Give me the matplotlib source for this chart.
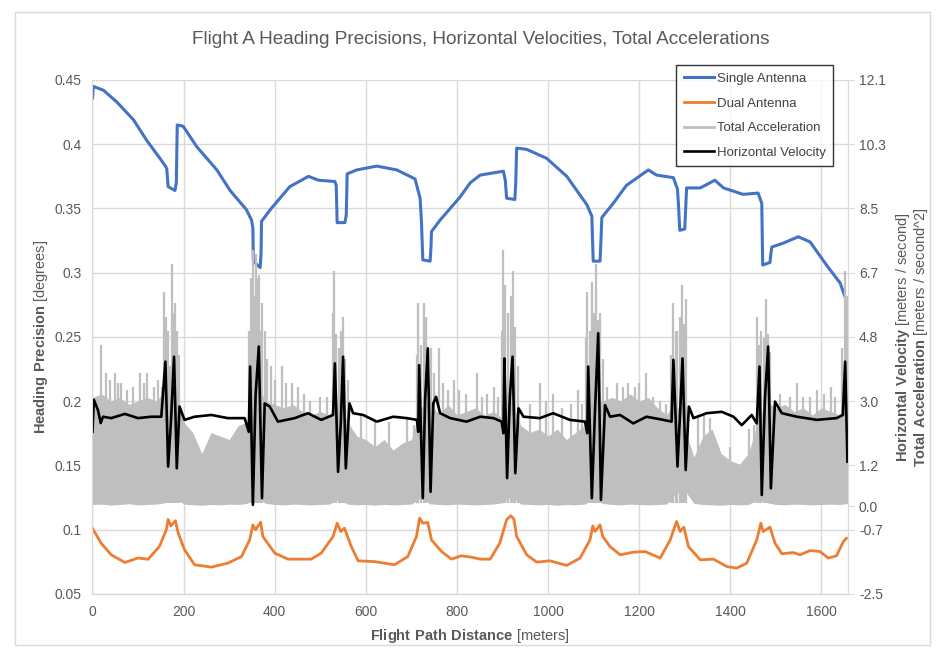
import matplotlib
matplotlib.use('Agg')
import matplotlib.pyplot as plt
from matplotlib.lines import Line2D
from matplotlib.patches import Rectangle

plt.rcParams['font.family'] = 'Liberation Sans'
plt.rcParams['mathtext.fontset'] = 'custom'
plt.rcParams['mathtext.rm'] = 'Liberation Sans'
plt.rcParams['mathtext.bf'] = 'Liberation Sans:bold'

# heading precision, single antenna [deg]
single_d = [0, 2, 24, 53, 90, 119, 148, 160, 163, 166, 181, 184, 186, 199, 229, 273, 302,
            338, 349, 352, 353, 368, 370, 371, 390, 433, 474, 496, 532, 535, 537, 554, 557,
            559, 580, 624, 668, 708, 719, 722, 725, 741, 743, 744, 763, 807, 829, 851, 902,
            906, 909, 927, 929, 931, 953, 997, 1041, 1085, 1096, 1099, 1114, 1116, 1118,
            1143, 1172, 1220, 1238, 1275, 1284, 1286, 1289, 1300, 1302, 1304, 1334, 1366,
            1385, 1428, 1461, 1469, 1471, 1487, 1489, 1491, 1516, 1549, 1575, 1611, 1641,
            1652, 1655]
single_v = [0.436, 0.445, 0.442, 0.433, 0.419, 0.403, 0.389, 0.383, 0.381, 0.367, 0.364,
            0.370, 0.415, 0.414, 0.398, 0.380, 0.364, 0.349, 0.341, 0.335, 0.309, 0.304,
            0.315, 0.340, 0.349, 0.367, 0.375, 0.372, 0.371, 0.368, 0.339, 0.339, 0.345,
            0.377, 0.380, 0.383, 0.380, 0.373, 0.358, 0.340, 0.310, 0.309, 0.320, 0.332,
            0.341, 0.359, 0.370, 0.376, 0.379, 0.372, 0.358, 0.357, 0.370, 0.397, 0.396,
            0.389, 0.375, 0.353, 0.344, 0.309, 0.309, 0.325, 0.343, 0.354, 0.368, 0.380,
            0.376, 0.374, 0.365, 0.354, 0.333, 0.334, 0.350, 0.366, 0.366, 0.372, 0.366,
            0.361, 0.362, 0.354, 0.306, 0.308, 0.315, 0.320, 0.323, 0.328, 0.324, 0.306,
            0.292, 0.281, 0.279]

# heading precision, dual antenna [deg]
dual_d = [0, 19, 41, 71, 100, 122, 147, 162, 166, 172, 182, 188, 202, 224, 261, 297, 327,
          345, 352, 358, 369, 374, 400, 429, 480, 502, 528, 537, 545, 553, 568, 583, 619,
          663, 692, 711, 718, 725, 736, 744, 766, 788, 809, 831, 851, 873, 894, 909, 918,
          925, 931, 953, 975, 1004, 1041, 1070, 1092, 1098, 1103, 1114, 1120, 1136, 1158,
          1187, 1213, 1246, 1268, 1282, 1290, 1298, 1308, 1334, 1363, 1392, 1414, 1436,
          1458, 1467, 1472, 1487, 1498, 1513, 1538, 1553, 1575, 1597, 1615, 1633, 1648,
          1655]
dual_v = [0.101, 0.0895, 0.0805, 0.0745, 0.078, 0.077, 0.087, 0.100, 0.108, 0.103, 0.107,
          0.0975, 0.0844, 0.0727, 0.0709, 0.074, 0.0791, 0.0921, 0.1038, 0.100, 0.1059,
          0.0947, 0.0818, 0.0771, 0.0771, 0.0818, 0.0947, 0.1051, 0.0986, 0.1012, 0.0869,
          0.0758, 0.0752, 0.0727, 0.0791, 0.0947, 0.109, 0.1051, 0.1056, 0.0921, 0.083,
          0.0771, 0.0797, 0.0787, 0.0771, 0.0771, 0.0896, 0.1078, 0.1109, 0.1083, 0.0947,
          0.0805, 0.0748, 0.0758, 0.0722, 0.0779, 0.0921, 0.103, 0.0986, 0.1038, 0.0947,
          0.0869, 0.0805, 0.0825, 0.083, 0.0779, 0.0921, 0.1064, 0.0986, 0.102, 0.0869,
          0.0766, 0.0771, 0.0714, 0.0701, 0.074, 0.0921, 0.1051, 0.0986, 0.102, 0.0896,
          0.0813, 0.0822, 0.0805, 0.0838, 0.083, 0.0779, 0.0797, 0.0908, 0.0934]

# horizontal velocity [m/s]
vel_d = [0, 3, 12, 18, 23, 41, 71, 100, 129, 151, 160, 166, 172, 179, 185, 191, 202, 224,
         261, 297, 334, 343, 346, 352, 358, 365, 372, 378, 389, 407, 444, 473, 502, 528,
         532, 539, 545, 550, 556, 564, 572, 594, 624, 660, 690, 712, 715, 717, 725, 730,
         736, 742, 748, 754, 763, 785, 821, 851, 880, 898, 902, 904, 910, 916, 922, 928,
         935, 946, 982, 1011, 1048, 1081, 1086, 1088, 1096, 1103, 1110, 1116, 1125, 1136,
         1158, 1187, 1216, 1253, 1271, 1275, 1284, 1290, 1295, 1302, 1309, 1319, 1348,
         1381, 1407, 1425, 1447, 1458, 1464, 1469, 1476, 1483, 1489, 1498, 1513, 1546,
         1590, 1633, 1647, 1652, 1657]
vel_v = [2.12, 3.03, 2.74, 2.37, 2.55, 2.51, 2.63, 2.51, 2.55, 2.55, 4.12, 1.13, 2.36,
         4.26, 1.08, 2.84, 2.46, 2.55, 2.60, 2.51, 2.51, 2.12, 3.98, 0.04, 3.17, 4.55,
         0.23, 2.93, 2.84, 2.41, 2.51, 2.65, 2.46, 2.60, 4.07, 0.98, 2.36, 4.26, 1.08,
         2.93, 2.65, 2.60, 2.41, 2.55, 2.51, 2.46, 2.12, 4.02, 0.23, 3.03, 4.50, 0.41,
         2.93, 3.12, 2.65, 2.51, 2.41, 2.55, 2.51, 2.41, 2.08, 4.21, 0.80, 3.12, 4.26,
         0.94, 2.79, 2.55, 2.51, 2.65, 2.46, 2.41, 2.08, 3.98, 0.23, 2.74, 4.93, 0.18,
         2.88, 2.55, 2.60, 2.36, 2.55, 2.46, 2.41, 4.17, 1.13, 2.74, 4.21, 1.03, 2.84,
         2.51, 2.65, 2.69, 2.55, 2.31, 2.60, 2.36, 3.98, 0.32, 3.08, 4.55, 0.51, 2.98,
         2.65, 2.55, 2.46, 2.51, 2.60, 4.12, 1.27]

# total acceleration [m/s^2]: dense band (top / bottom) plus tall spikes
acc_d = list(range(0, 1661, 20))
acc_top = [3.1, 3.2, 3.0, 3.1, 2.9, 3.0, 3.1, 3.0, 3.3, 3.5, 2.4, 2.1, 1.5, 2.1, 2.0, 1.9,
           2.3, 2.4, 3.5, 3.0, 2.9, 2.8, 2.9, 2.7, 2.6, 2.7, 2.6, 3.0, 2.4, 2.0, 1.9, 1.7,
           1.9, 1.6, 1.8, 1.9, 2.8, 3.0, 2.6, 2.9, 2.6, 2.7, 2.8, 2.6, 2.7, 2.5, 3.0, 2.3,
           2.1, 2.2, 2.0, 2.2, 1.9, 2.1, 2.3, 3.0, 3.0, 3.1, 3.0, 3.2, 3.0, 3.1, 2.8, 2.6,
           3.0, 2.2, 1.4, 2.0, 2.2, 1.5, 1.3, 1.2, 1.5, 2.4, 3.0, 2.8, 2.9, 2.7, 2.8, 2.6,
           2.8, 2.7, 2.6, 3.0]
acc_low = [0.05, 0.06, 0.03, 0.05, 0.07, 0.04, 0.05, 0.06, 0.10, 0.25, 0.06, 0.04, 0.03,
           0.05, 0.04, 0.06, 0.05, 0.08, 0.30, 0.08, 0.05, 0.04, 0.06, 0.05, 0.04, 0.05,
           0.06, 0.20, 0.06, 0.04, 0.05, 0.03, 0.05, 0.04, 0.05, 0.06, 0.25, 0.07, 0.05,
           0.04, 0.06, 0.05, 0.04, 0.05, 0.06, 0.10, 0.30, 0.06, 0.05, 0.04, 0.05, 0.03,
           0.05, 0.04, 0.06, 0.20, 0.08, 0.05, 0.04, 0.06, 0.05, 0.04, 0.05, 0.06, 0.35,
           0.45, 0.08, 0.05, 0.04, 0.03, 0.05, 0.04, 0.05, 0.20, 0.10, 0.05, 0.04, 0.06,
           0.05, 0.04, 0.05, 0.06, 0.05, 0.08]
spike_d = [19, 30, 38, 49, 56, 63, 75, 90, 104, 112, 120, 135, 144, 152,
           157, 162, 166, 170, 175, 179, 182, 186, 189,
           343, 347, 352, 355, 358, 362, 365, 368, 372, 378, 383,
           392, 400, 416, 425, 438, 450, 465, 478, 500, 515,
           527, 530, 535, 540, 546, 550, 555, 560,
           590, 620, 650, 690, 705,
           712, 715, 720, 727, 733, 742, 750, 761, 770,
           780, 793, 805, 820, 843, 855, 865, 881, 890,
           898, 902, 906, 912, 918, 922, 928, 933,
           960, 982, 995, 1011, 1030, 1050, 1066, 1075,
           1083, 1086, 1092, 1096, 1100, 1105, 1110, 1114, 1120,
           1130, 1151, 1165, 1175, 1190, 1200, 1215, 1231, 1245, 1258,
           1270, 1275, 1280, 1284, 1289, 1293, 1298, 1302,
           1330, 1342, 1355, 1400, 1440, 1452,
           1458, 1463, 1468, 1474, 1478, 1483, 1488,
           1510, 1530, 1546, 1560, 1575, 1590, 1605, 1620, 1630,
           1645, 1652, 1656]
spike_v = [4.6, 3.8, 3.6, 3.8, 3.5, 3.5, 3.3, 3.4, 3.8, 3.5, 3.8, 3.4, 3.6, 3.4,
           6.1, 5.4, 5.0, 4.0, 6.9, 5.5, 5.8, 5.0, 4.3,
           5.0, 6.5, 7.3, 6.0, 7.2, 6.5, 6.6, 5.0, 5.8, 5.0, 4.2,
           4.0, 3.6, 4.0, 3.5, 3.5, 3.4, 3.2, 3.0, 3.1, 3.1,
           5.5, 6.7, 4.9, 4.5, 5.0, 5.4, 4.2, 3.6,
           2.6, 2.4, 2.4, 2.5, 2.3,
           4.3, 5.8, 4.6, 5.8, 5.4, 4.5, 3.8, 4.5, 3.5,
           3.3, 3.6, 3.3, 3.2, 3.8, 3.1, 3.2, 3.4, 3.1,
           5.0, 7.3, 6.3, 5.5, 6.0, 6.7, 5.1, 4.0,
           2.9, 3.5, 3.0, 3.2, 2.8, 2.9, 3.3, 2.9,
           4.8, 6.1, 5.0, 6.4, 5.5, 6.9, 5.3, 5.5, 4.2,
           3.4, 3.5, 3.4, 3.5, 3.4, 3.5, 3.8, 3.1, 3.0, 2.9,
           4.3, 5.8, 5.0, 5.0, 5.4, 6.3, 5.2, 5.9,
           2.6, 2.6, 2.5, 1.7, 2.2, 2.3,
           5.4, 4.6, 5.0, 4.8, 5.9, 4.9, 4.4,
           3.2, 3.1, 3.5, 3.1, 3.1, 3.3, 3.2, 3.4, 3.1,
           4.5, 6.7, 6.0]

left_ticks = [0.05, 0.1, 0.15, 0.2, 0.25, 0.3, 0.35, 0.4, 0.45]
left_labels = ['0.05', '0.1', '0.15', '0.2', '0.25', '0.3', '0.35', '0.4', '0.45']
right_step = 1.8305
right_min = -2.5

c_blue = '#4472C4'
c_orange = '#ED7D31'
c_grey = '#BFBFBF'
c_text = '#595959'
c_grid = '#D9D9D9'

fig = plt.figure(figsize=(9.4, 6.53), dpi=100)
fig.patches.append(Rectangle((0.016, 0.012), 0.973, 0.97, transform=fig.transFigure,
                             fill=False, edgecolor=c_grid, linewidth=1))
ax = fig.add_axes([0.0984, 0.0904, 0.8036, 0.7871])
ax2 = ax.twinx()

# primary axis: heading precisions
ax.plot(single_d, single_v, color=c_blue, linewidth=2.2)
ax.plot(dual_d, dual_v, color=c_orange, linewidth=2.0)

# secondary axis: acceleration band + spikes, velocity (drawn over the gridlines)
ax2.fill_between(acc_d, acc_low, acc_top, color=c_grey, linewidth=0)
ax2.vlines(spike_d, 0.1, spike_v, color=c_grey, linewidth=1.6)
ax2.plot(vel_d, vel_v, color='black', linewidth=1.9)

ax.set_xlim(0, 1658)
ax.set_ylim(0.05, 0.45)
ax.set_yticks(left_ticks)
ax.set_yticklabels(left_labels)
ax.set_xticks(range(0, 1601, 200))
ax.grid(True, color=c_grid, linewidth=1)
ax.set_axisbelow(True)

rt = [right_min + k * right_step for k in range(9)]
ax2.set_ylim(rt[0], rt[-1])
ax2.set_yticks(rt + [0.0])
ax2.set_yticklabels(['%.1f' % v for v in rt] + ['0.0'])

for a in (ax, ax2):
    for s in a.spines.values():
        s.set_color(c_grid)
    a.spines['top'].set_visible(False)
ax.tick_params(axis='both', length=0, colors=c_text, labelsize=10, pad=8)
ax2.tick_params(axis='y', length=4, color=c_grid, colors=c_text, labelsize=10, pad=4)
ax2.tick_params(axis='y', color=c_grid)

ax.set_xlabel(r'$\bf{Flight\ Path\ Distance}$ [meters]', color=c_text, fontsize=10.5,
              labelpad=6)
ax.set_ylabel(r'$\bf{Heading\ Precision}$ [degrees]', color=c_text, fontsize=10.5,
              labelpad=3)
ax2.set_ylabel(r'$\bf{Horizontal\ Velocity}$ [meters / second]' + '\n' +
               r'$\bf{Total\ Acceleration}$ [meters / second^2]',
               color=c_text, fontsize=10.5, labelpad=6, linespacing=1.0)

fig.text(0.511, 0.939, 'Flight A Heading Precisions, Horizontal Velocities, Total Accelerations',
         ha='center', va='center', fontsize=13.7, color=c_text)

handles = [Line2D([], [], color=c_blue, linewidth=2.2),
           Line2D([], [], color=c_orange, linewidth=2.0),
           Line2D([], [], color=c_grey, linewidth=2.0),
           Line2D([], [], color='black', linewidth=1.9)]
names = ['Single Antenna', 'Dual Antenna', 'Total Acceleration', 'Horizontal Velocity']
leg = fig.legend(handles, names, loc='upper right', bbox_to_anchor=(0.886, 0.9),
                 borderaxespad=0, frameon=True, fancybox=False, fontsize=9.5,
                 handlelength=2.3, handletextpad=0.2, labelspacing=0.95, borderpad=0.55,
                 labelcolor='#404040')
leg.get_frame().set_edgecolor('black')
leg.get_frame().set_linewidth(1.0)

fig.savefig('out.png', dpi=100)
